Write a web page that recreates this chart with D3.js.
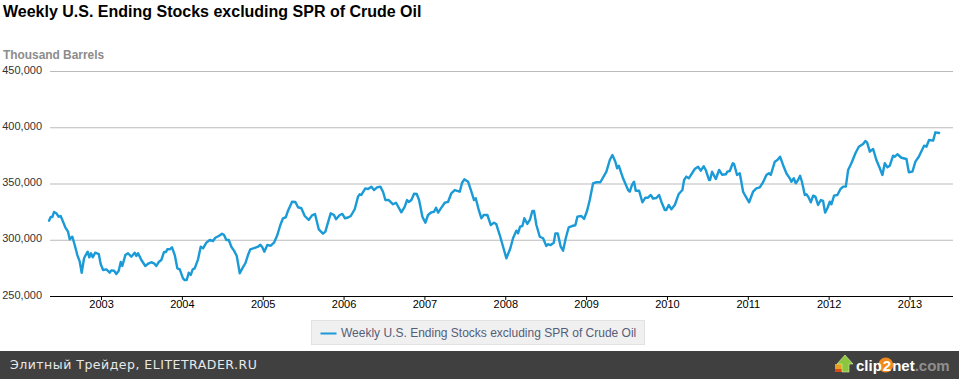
<!DOCTYPE html>
<html>
<head>
<meta charset="utf-8">
<script src="https://cdn.jsdelivr.net/npm/d3@7"></script>
<style>
html,body{margin:0;padding:0;background:#fff;overflow:hidden}
svg{display:block}
text{font-family:"Liberation Sans",Arial,sans-serif}
</style>
</head>
<body>
<div id="chart"></div>
<script>
const titleText = "Weekly U.S. Ending Stocks excluding SPR of Crude Oil";
const unitText = "Thousand Barrels";
const footerText = "Элитный Трейдер, ELITETRADER.RU";
const yTicks = [250000, 300000, 350000, 400000, 450000];
const xTicks = [2003, 2004, 2005, 2006, 2007, 2008, 2009, 2010, 2011, 2012, 2013];

const dates = [
2002.357,2002.378,2002.398,2002.419,2002.447,2002.477,2002.501,2002.530,2002.558,2002.592,2002.613,2002.645,2002.675,2002.707,2002.737,2002.761,2002.790,2002.811,2002.835,2002.855,2002.876,2002.897,2002.929,2002.972,2002.996,
2003.025,2003.066,2003.108,2003.127,2003.161,2003.189,2003.219,2003.244,2003.263,2003.301,2003.334,2003.375,2003.417,2003.437,2003.458,2003.499,2003.548,2003.590,2003.622,2003.656,2003.684,2003.714,2003.746,2003.779,2003.804,2003.820,2003.850,2003.878,2003.912,2003.944,2003.974,
2004.014,2004.035,2004.060,2004.085,2004.110,2004.134,2004.159,2004.200,2004.233,2004.262,2004.303,2004.345,2004.385,2004.414,2004.456,2004.497,2004.522,2004.550,2004.580,2004.612,2004.645,2004.679,2004.716,2004.748,2004.785,2004.818,2004.847,2004.901,2004.942,2004.971,2004.995,
2005.020,2005.057,2005.099,2005.140,2005.181,2005.218,2005.251,2005.285,2005.313,2005.363,2005.404,2005.437,2005.478,2005.520,2005.569,2005.610,2005.647,2005.693,2005.746,2005.775,2005.817,2005.841,2005.882,2005.907,2005.953,2005.985,
2006.018,2006.055,2006.089,2006.138,2006.179,2006.200,2006.220,2006.269,2006.303,2006.344,2006.377,2006.414,2006.455,2006.488,2006.517,2006.559,2006.612,2006.649,2006.715,2006.757,2006.785,2006.806,2006.839,2006.872,2006.905,2006.934,2006.975,
2007.012,2007.045,2007.086,2007.119,2007.144,2007.169,2007.210,2007.252,2007.292,2007.333,2007.375,2007.437,2007.466,2007.494,2007.540,2007.581,2007.614,2007.635,2007.672,2007.704,2007.734,2007.779,2007.821,2007.861,2007.890,2007.911,2007.932,2007.973,
2008.014,2008.063,2008.096,2008.137,2008.158,2008.183,2008.212,2008.236,2008.273,2008.307,2008.335,2008.356,2008.385,2008.427,2008.468,2008.508,2008.529,2008.562,2008.600,2008.620,2008.649,2008.686,2008.715,2008.748,2008.785,2008.826,2008.867,2008.892,2008.941,2008.975,
2009.012,2009.045,2009.086,2009.127,2009.176,2009.251,2009.293,2009.325,2009.362,2009.383,2009.404,2009.457,2009.519,2009.540,2009.568,2009.593,2009.614,2009.655,2009.696,2009.733,2009.766,2009.800,2009.828,2009.869,2009.902,2009.931,2009.973,2009.992,
2010.022,2010.055,2010.097,2010.146,2010.191,2010.212,2010.240,2010.270,2010.344,2010.385,2010.418,2010.455,2010.480,2010.521,2010.533,2010.558,2010.604,2010.645,2010.682,2010.728,2010.747,2010.777,2010.814,2010.830,2010.867,2010.901,2010.942,2010.963,
2011.016,2011.065,2011.106,2011.148,2011.189,2011.230,2011.260,2011.284,2011.334,2011.366,2011.399,2011.436,2011.477,2011.519,2011.539,2011.569,2011.593,2011.622,2011.647,2011.671,2011.705,2011.725,2011.754,2011.779,2011.808,2011.836,2011.869,2011.903,2011.931,2011.956,2011.984,
2012.014,2012.034,2012.067,2012.108,2012.145,2012.179,2012.212,2012.241,2012.281,2012.331,2012.373,2012.426,2012.454,2012.475,2012.509,2012.550,2012.590,2012.633,2012.665,2012.694,2012.727,2012.756,2012.797,2012.818,2012.850,2012.900,2012.962,2012.992,
2013.036,2013.073,2013.115,2013.180,2013.209,2013.242,2013.292,2013.320,2013.366
];

const stocks = [
316900,320200,320200,324700,323500,320500,321100,316100,311100,307200,300400,302700,295300,286400,280500,270700,283500,286400,289400,284400,288000,284400,288500,287300,278400,
273100,273700,270700,272800,272500,269600,272500,280200,276700,286400,288000,284900,288500,285600,288000,282000,276700,279100,280000,279100,276700,280200,282000,289100,289100,291500,291500,293300,286400,274600,273700,
265700,264200,264200,270700,268700,273700,274600,282600,293800,292400,297400,299800,298900,301800,303300,305400,304200,299800,299800,293800,290300,285600,270200,274600,279100,286400,291500,292700,293800,295600,293300,
289400,295300,294700,297400,304200,313100,319100,320000,325800,333800,333600,328900,328000,321100,317600,321700,322900,309300,305400,307200,317600,323500,322000,318200,322000,322900,
319100,319800,321100,327100,338300,340400,339800,345700,345100,347200,344200,346600,347200,342700,335300,335300,331500,332900,324400,329400,335300,333600,335300,340900,340700,335300,320500,
315200,322000,324400,324900,328500,324100,328500,332900,333600,341300,344200,342700,350700,353700,351600,342700,335300,336900,326500,319100,322000,322000,313100,315200,313700,308700,304200,293800,
283500,292400,301300,308100,305700,311600,312200,319100,314000,318200,325600,325600,313100,302700,301300,294500,296000,295300,297400,305700,305700,293800,290300,301300,311100,312200,312900,320500,321100,318500,
325800,335300,350200,351100,351100,360500,370900,375300,369400,363500,365800,354600,344200,342700,348700,351600,343600,343600,333300,337400,337400,339800,336500,337100,339800,333800,326500,326500,
330900,327100,330900,340700,344200,353100,356100,354600,362900,364900,361400,365300,362000,353100,353100,360500,354000,362000,357800,358200,360500,361100,368000,367300,357600,359100,342700,339800,
333300,342700,345700,346600,351100,357600,359100,357600,369400,370900,373800,366500,359100,354600,351600,354600,350200,353100,356900,351100,339800,340400,337400,333300,339200,338300,330900,335300,334500,324100,328000,
333800,331500,339200,339800,344900,347200,347200,362000,368000,376900,382700,385100,387800,386600,378300,380700,370900,363500,357600,368000,364400,365800,374700,373800,376000,372900,371800,360000,
360500,369400,373800,383600,382700,388700,388100,395500,394900
];

const W = 959, H = 379;
const seriesColor = "#1a9ad6";
const plot = {left: 50, right: 953, top: 71, bottom: 296};

const svg = d3.select("#chart").append("svg").attr("width", W).attr("height", H);
svg.append("rect").attr("width", W).attr("height", H).attr("fill", "#fff");

const x = d3.scaleLinear().domain([2002.369, 2013.538]).range([plot.left, plot.right]);
const y = d3.scaleLinear().domain([250000, 450000]).range([plot.bottom, plot.top]);

svg.append("text").attr("x", 3).attr("y", 17)
  .attr("font-size", 16).attr("font-weight", "bold").attr("fill", "#000").text(titleText);
svg.append("text").attr("x", 3).attr("y", 59)
  .attr("font-size", 11.9).attr("font-weight", "bold").attr("fill", "#8c8c8c").text(unitText);

// Horizontal gridlines and value labels
const yAxis = d3.axisLeft(y).tickValues(yTicks).tickSize(0).tickPadding(8)
  .tickFormat(d3.format(","));
const yG = svg.append("g").attr("transform", `translate(${plot.left},0)`).call(yAxis);
yG.select(".domain").remove();
yG.selectAll("text").attr("font-size", 11).attr("fill", "#333").attr("dy", "0.2em")
  .style("font-family", '"Liberation Sans",Arial,sans-serif');
yG.selectAll(".tick").append("line")
  .attr("x1", 0).attr("x2", plot.right - plot.left)
  .attr("stroke", d => d === 250000 ? "none" : "#bbb").attr("stroke-width", 1);

// Year axis
const xAxis = d3.axisBottom(x).tickValues(xTicks).tickSize(4).tickPadding(0)
  .tickFormat(d3.format("d"));
const xG = svg.append("g").attr("transform", `translate(0,${plot.bottom})`).call(xAxis);
xG.select(".domain").attr("d", `M${plot.left},0.5H${plot.right}`).attr("stroke", "#000").attr("stroke-width", 1);
xG.selectAll(".tick line").attr("stroke", "#000");
xG.selectAll("text").attr("font-size", 11).attr("fill", "#000")
  .style("font-family", '"Liberation Sans",Arial,sans-serif');

// Series line
const points = dates.map((d, i) => [d, stocks[i]]);
const line = d3.line().x(d => x(d[0])).y(d => y(d[1])).curve(d3.curveLinear);
svg.append("path").datum(points).attr("d", line)
  .attr("fill", "none").attr("stroke", seriesColor).attr("stroke-width", 2.4)
  .attr("stroke-linejoin", "round").attr("stroke-linecap", "round");

// Legend
const lg = svg.append("g").attr("transform", "translate(311.5,320.5)");
lg.append("rect").attr("width", 333).attr("height", 24).attr("fill", "#f0f0f0").attr("stroke", "#e2e2e2");
lg.append("line").attr("x1", 9).attr("x2", 25).attr("y1", 13).attr("y2", 13)
  .attr("stroke", seriesColor).attr("stroke-width", 2);
lg.append("text").attr("x", 29.5).attr("y", 16).attr("font-size", 12).attr("fill", "#555d78").text(titleText);

// Footer bar
const fg = svg.append("g");
fg.append("rect").attr("x", 0).attr("y", 351).attr("width", W).attr("height", 28).attr("fill", "#404040");
fg.append("text").attr("x", 10).attr("y", 369).attr("font-size", 12.5)
  .attr("letter-spacing", "0.5").style("font-family", '"DejaVu Sans",sans-serif')
  .attr("fill", "#e8e8e8").text(footerText);

// Service badge
const logo = fg.append("g");
logo.append("path").attr("d", "M835,372V364H843V372Z").attr("fill", "#e8a020");
logo.append("path").attr("d", "M835,372V369H845V372Z").attr("fill", "#d84a18");
logo.append("path").attr("d", "M845,355L853,364H849V372H842V364H837Z").attr("fill", "#8cc63f").attr("stroke", "#dff0b0").attr("stroke-width", 0.6);
logo.append("circle").attr("cx", 885.7).attr("cy", 365).attr("r", 7.5).attr("fill", "#f08a1c");
const logoT = fg.append("text").attr("x", 856).attr("y", 370.5).attr("font-size", 15).attr("font-weight", "bold")
  .style("font-family", '"Liberation Sans",Arial,sans-serif');
logoT.append("tspan").attr("fill", "#fff").text("clip");
logoT.append("tspan").attr("fill", "#fff").attr("dx", 1).text("2");
logoT.append("tspan").attr("fill", "#fff").attr("dx", 1).text("net");
logoT.append("tspan").attr("fill", "#8f8f8f").text(".com");
</script>
</body>
</html>
